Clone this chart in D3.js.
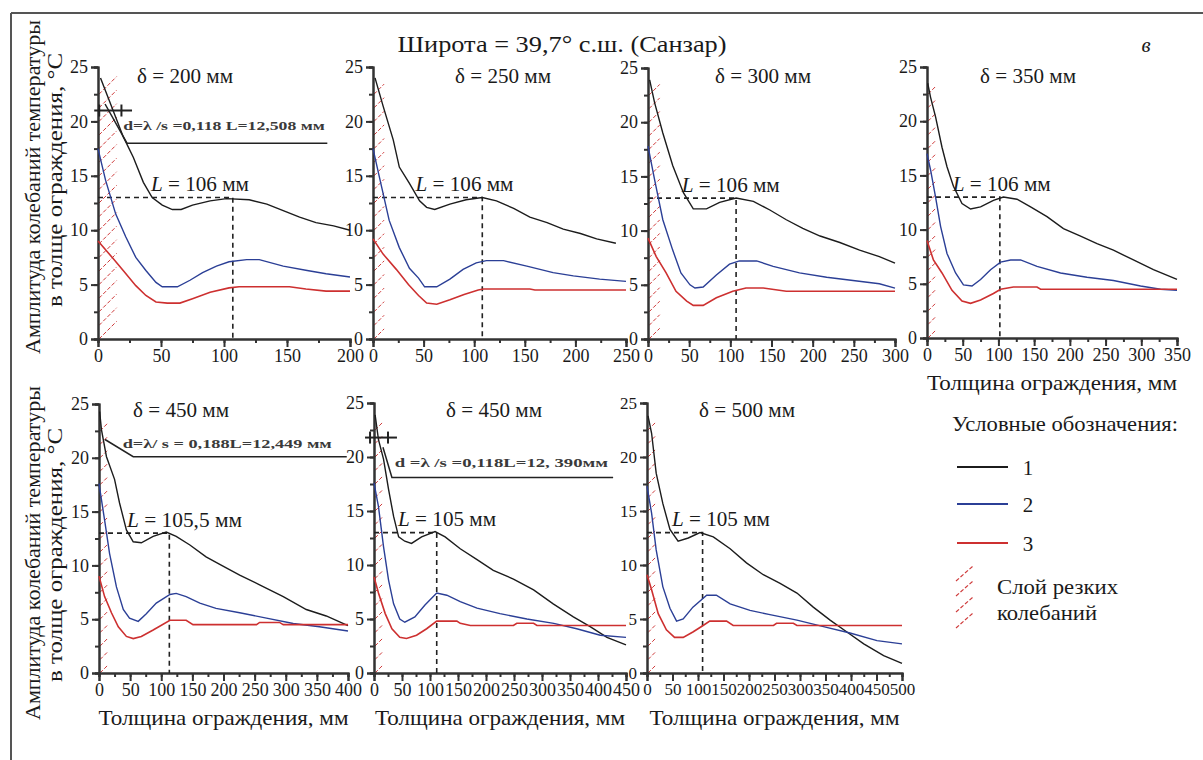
<!DOCTYPE html>
<html>
<head>
<meta charset="utf-8">
<script src="https://cdn.jsdelivr.net/npm/d3@7"></script>
<style>
  body { margin: 0; background: #fff; }
  svg { display: block; font-family: "Liberation Serif", "Times New Roman", serif; }
  svg text { font-family: "Liberation Serif", "Times New Roman", serif; }
</style>
</head>
<body>
<svg id="chart" width="1203" height="760"></svg>
<script>
// panel captions and axis ranges
const panelDelta = [200, 250, 300, 350, 450, 450, 500];
const panelXMax = [200, 250, 300, 350, 400, 450, 500];
const yTickValues = [0, 5, 10, 15, 20, 25];
const lengthLabels = ["106", "106", "106", "106", "105,5", "105", "105"];
const lengthMarkX = [107, 108, 107, 102, 113, 112, 109];
const lengthMarkY = 13;
const lengthLabelX = [42, 42, 41, 36, 45, 43, 49];
const hatchDepth = [14, 10, 13, 10, 12, 13, 14];
const hatchTop = 24;
const legendLabels = ["1", "2", "3"];

// curve 1 (black) per panel, [thickness mm, amplitude °C]
const curve1 = [
  [[2,24],[9,21.9],[20,18.6],[28,16.7],[36,14.4],[43,13.0],[51,12.3],[59,11.9],[66,11.9],[75,12.3],[89,12.7],[102,12.9],[120,12.8],[134,12.4],[147,11.8],[160,11.2],[173,10.7],[187,10.4],[200,10.0]],
  [[2,24],[10,21.4],[20,18.3],[26,15.8],[36,14.3],[46,12.7],[53,12.1],[61,11.9],[76,12.4],[92,12.8],[108,13.0],[122,12.7],[139,12.0],[155,11.2],[172,10.7],[188,10.1],[205,9.7],[221,9.2],[240,8.8]],
  [[2,23.9],[8,21.8],[18,19.0],[30,16.0],[43,13.5],[55,12.0],[71,12.0],[87,12.6],[107,13.0],[128,12.7],[148,11.9],[168,11.0],[188,10.2],[209,9.5],[233,8.9],[257,8.2],[281,7.6],[300,7.0]],
  [[1,23.5],[5,22.2],[12,20.4],[21,17.6],[28,15.8],[37,14.0],[49,12.4],[61,11.9],[75,12.1],[93,12.7],[107,13.0],[126,12.8],[145,12.1],[168,11.2],[191,10.1],[215,9.4],[238,8.7],[261,8.1],[289,7.2],[317,6.3],[350,5.4]],
  [[1,24.3],[4,22.6],[12,20.1],[25,18.0],[33,15.8],[44,13.3],[55,12.2],[68,12.1],[87,12.7],[108,13.1],[124,12.7],[146,11.9],[172,10.8],[194,10.1],[226,9.1],[258,8.2],[296,7.1],[333,5.9],[365,5.3],[400,4.4]],
  [[2,23.9],[8,21.6],[17,19.8],[26,17.0],[35,14.5],[44,12.6],[55,12.2],[67,12.0],[85,12.6],[109,13.1],[127,12.6],[154,11.5],[184,10.5],[213,9.5],[249,8.7],[285,7.7],[320,6.4],[356,5.2],[386,4.3],[416,3.3],[450,2.6]],
  [[2,23.8],[9,22.2],[18,18.5],[31,15.7],[45,13.3],[61,12.2],[81,12.5],[104,13.0],[130,12.6],[163,11.5],[195,10.2],[228,9.1],[261,8.3],[294,7.4],[326,6.1],[359,4.9],[392,3.8],[425,2.7],[464,1.6],[500,0.9]],
];

// curve 2 (blue)
const curve2 = [
  [[0,17.5],[6,14.6],[14,11.5],[22,9.4],[30,7.5],[38,6.3],[46,5.2],[51,4.8],[63,4.8],[73,5.4],[83,6.1],[94,6.7],[104,7.1],[118,7.3],[128,7.3],[147,6.7],[166,6.3],[181,6.0],[200,5.7]],
  [[0,17.5],[7,14.6],[16,10.9],[26,8.4],[36,6.5],[45,5.6],[51,4.8],[63,4.8],[76,5.5],[89,6.4],[102,7.0],[112,7.2],[129,7.2],[152,6.7],[178,6.1],[198,5.8],[224,5.5],[250,5.3]],
  [[0,17.8],[8,14.7],[18,11.0],[30,8.2],[40,6.1],[51,5.0],[57,4.7],[67,4.8],[83,5.9],[99,6.9],[111,7.2],[132,7.2],[152,6.7],[184,6.1],[217,5.7],[249,5.4],[281,5.1],[300,4.7]],
  [[0,17.0],[5,15.5],[12,13.0],[19,10.3],[28,7.8],[40,6.0],[51,4.9],[63,4.8],[75,5.4],[89,6.3],[103,7.0],[117,7.2],[131,7.2],[154,6.6],[187,6.0],[224,5.6],[261,5.3],[299,4.8],[327,4.5],[350,4.4]],
  [[0,17.6],[9,14.2],[17,11.1],[28,8.0],[39,5.9],[49,5.1],[63,4.8],[76,5.5],[92,6.5],[114,7.3],[124,7.4],[140,7.1],[162,6.5],[188,6.0],[226,5.6],[269,5.1],[312,4.6],[354,4.3],[400,3.9]],
  [[0,17.6],[8,15.4],[17,11.7],[26,8.6],[35,6.4],[46,5.0],[55,4.7],[73,5.2],[91,6.3],[112,7.4],[130,7.2],[154,6.6],[184,6.0],[225,5.5],[273,5.0],[321,4.6],[362,4.1],[404,3.5],[450,3.3]],
  [[0,17.3],[9,14.8],[18,11.4],[31,8.0],[45,6.0],[58,4.8],[71,5.0],[90,6.1],[117,7.2],[136,7.2],[163,6.4],[202,5.8],[241,5.4],[294,4.9],[346,4.3],[398,3.7],[451,3.0],[500,2.7]],
];

// curve 3 (red)
const curve3 = [
  [[0,9.0],[12,7.4],[20,6.3],[30,4.9],[38,4.0],[46,3.4],[55,3.3],[65,3.3],[75,3.7],[89,4.3],[104,4.7],[112,4.8],[152,4.8],[165,4.6],[181,4.4],[200,4.4]],
  [[0,9.2],[10,7.8],[23,6.4],[35,5.0],[45,4.0],[53,3.3],[63,3.2],[76,3.6],[90,4.1],[104,4.5],[109,4.6],[155,4.6],[160,4.5],[250,4.5]],
  [[0,9.3],[10,7.6],[22,6.1],[34,4.4],[47,3.5],[55,3.1],[67,3.1],[83,3.8],[103,4.4],[119,4.7],[140,4.7],[168,4.4],[300,4.4]],
  [[0,9.0],[9,7.2],[21,6.0],[35,4.4],[49,3.4],[61,3.2],[75,3.5],[93,4.1],[103,4.5],[121,4.7],[154,4.7],[159,4.5],[350,4.5]],
  [[0,9.0],[9,7.1],[20,5.6],[31,4.3],[44,3.4],[55,3.2],[68,3.4],[87,4.0],[114,4.9],[140,4.9],[151,4.5],[253,4.5],[258,4.7],[290,4.7],[296,4.5],[400,4.5]],
  [[0,8.9],[8,7.4],[20,5.5],[32,4.1],[46,3.3],[58,3.2],[76,3.5],[94,4.1],[112,4.8],[148,4.8],[154,4.6],[172,4.4],[249,4.4],[255,4.6],[285,4.6],[291,4.4],[450,4.4]],
  [[0,9.1],[9,7.7],[22,5.5],[38,4.0],[54,3.3],[71,3.3],[90,3.8],[110,4.4],[123,4.8],[156,4.8],[169,4.4],[248,4.4],[254,4.6],[287,4.6],[294,4.4],[500,4.4]],
];

// "d = λ/s" notes drawn in panels 1, 5 and 6
const notePanels = [0, 4, 5];
const noteTexts = [
  "d=λ /s =0,118 L=12,508 мм",
  "d=λ/ s = 0,188L=12,449 мм",
  "d =λ /s =0,118L=12, 390мм",
];
const noteTextAt = [[20, 19.2, 180], [38, 20.9, 374], [37, 19.1, 418]];
const noteLeaders = [
  [[5.6, 21.6], [23, 18.0], [182, 18.0]],
  [[9.6, 21.7], [55, 20.1], [398, 20.1]],
  [[16, 20.9], [32, 18.1], [427, 18.1]],
];
const noteCross = [[-3, 27, 21.0], null, [-16, 41, 21.8]];

// ---------------------------------------------------------------
const layout = [
  { x0: 98, x1: 350, top: 67, bottom: 339, titleX: 185, titleY: 83 },
  { x0: 373, x1: 626, top: 67, bottom: 339, titleX: 503, titleY: 83 },
  { x0: 648, x1: 895, top: 68, bottom: 339, titleX: 763, titleY: 83 },
  { x0: 927, x1: 1177, top: 67, bottom: 338, titleX: 1028, titleY: 83 },
  { x0: 99, x1: 348, top: 404, bottom: 673, titleX: 181, titleY: 417 },
  { x0: 374, x1: 626, top: 403, bottom: 673, titleX: 494, titleY: 417 },
  { x0: 647, x1: 902, top: 403, bottom: 673, titleX: 747, titleY: 417 },
];
const colors = ["#1c1c1c", "#2b3f96", "#cd3030"];
const hatchColor = "#cf3a3a";
const curves = [curve1, curve2, curve3];
const xTitlePanels = [3, 4, 5, 6];
const ink = "#1a1a1a";

const svg = d3.select("#chart");

// text stretched to the width it has in the picture
const fitText = (parent, x, y, size, width, str, anchor = "start") =>
  parent
    .append("text")
    .attr("x", x)
    .attr("y", y)
    .attr("font-size", size)
    .attr("fill", ink)
    .attr("text-anchor", anchor)
    .attr("textLength", width)
    .attr("lengthAdjust", "spacingAndGlyphs")
    .text(str);

// frame
svg.append("line").attr("x1", 11).attr("x2", 1203).attr("y1", 13).attr("y2", 13)
  .attr("stroke", "#555").attr("stroke-width", 2);
svg.append("line").attr("x1", 11).attr("x2", 11).attr("y1", 13).attr("y2", 760)
  .attr("stroke", "#555").attr("stroke-width", 2);

fitText(svg, 562, 52, 24, 329, "Широта = 39,7° с.ш. (Санзар)", "middle");
svg.append("text").attr("x", 1146).attr("y", 52).attr("text-anchor", "middle")
  .attr("font-size", 21).attr("font-style", "italic").attr("fill", ink).text("в");

// y-axis titles, one per row
[[187, 180], [553, 555]].forEach(([cy1, cy2]) => {
  fitText(svg, 0, 0, 22, 334, "Амплитуда колебаний температуры", "middle")
    .attr("transform", `translate(40,${cy1}) rotate(-90)`);
  fitText(svg, 0, 0, 22, 254, "в толще ограждения, °С", "middle")
    .attr("transform", `translate(62,${cy2}) rotate(-90)`);
});

layout.forEach((box, i) => {
  const x = d3.scaleLinear().domain([0, panelXMax[i]]).range([box.x0, box.x1]);
  const y = d3.scaleLinear().domain([0, 25]).range([box.bottom, box.top]);
  const g = svg.append("g");

  // hatch band: short diagonal strokes next to the inner surface
  const hw = x(hatchDepth[i]) - x(0);
  g.selectAll(".hatch")
    .data(d3.range(0, hatchTop - 0.5, 1.25))
    .join("line")
    .attr("x1", x(0) + 1)
    .attr("y1", (v) => y(v))
    .attr("x2", x(0) + 1 + hw)
    .attr("y2", (v) => y(v) - hw)
    .attr("stroke", hatchColor)
    .attr("stroke-width", 1)
    .attr("stroke-dasharray", "4,2");

  // axes: minor ticks, then major ticks with labels
  const fontSize = i === 6 ? 17 : 18;
  const styleAxis = (sel) => {
    sel.attr("font-family", null);
    sel.select(".domain").attr("stroke", "#333").attr("stroke-width", 2);
    sel.selectAll(".tick line").attr("stroke", "#333").attr("stroke-width", 2);
    sel.selectAll(".tick text").attr("font-size", fontSize).attr("fill", ink);
  };

  g.append("g").attr("transform", `translate(0,${box.bottom})`)
    .call(d3.axisBottom(x).tickValues(d3.range(0, panelXMax[i] + 1, 25)).tickSize(4).tickFormat(""))
    .call(styleAxis);
  g.append("g").attr("transform", `translate(0,${box.bottom})`)
    .call(d3.axisBottom(x).tickValues(d3.range(0, panelXMax[i] + 1, 50)).tickSize(8).tickPadding(2))
    .call(styleAxis);
  g.append("g").attr("transform", `translate(${box.x0},0)`)
    .call(d3.axisLeft(y).tickValues(d3.range(0, 25.1, 2.5)).tickSize(4).tickFormat(""))
    .call(styleAxis);
  g.append("g").attr("transform", `translate(${box.x0},0)`)
    .call(d3.axisLeft(y).tickValues(yTickValues).tickSize(7).tickPadding(3))
    .call(styleAxis);

  // L marker
  g.append("path")
    .attr("d", d3.line()([
      [x(0), y(lengthMarkY)],
      [x(lengthMarkX[i]), y(lengthMarkY)],
      [x(lengthMarkX[i]), y(0)],
    ]))
    .attr("fill", "none")
    .attr("stroke", "#222")
    .attr("stroke-width", 1.6)
    .attr("stroke-dasharray", "5,4");

  // curves
  const line = d3.line().x((d) => x(d[0])).y((d) => y(d[1]));
  curves.forEach((c, k) => {
    g.append("path")
      .attr("d", line(c[i]))
      .attr("fill", "none")
      .attr("stroke", colors[k])
      .attr("stroke-width", k === 2 ? 1.6 : 1.4);
  });

  fitText(g, box.titleX, box.titleY, 20, 96, `δ = ${panelDelta[i]} мм`, "middle");

  const lt = fitText(g, x(lengthLabelX[i]), y(13.6), 20, lengthLabels[i].length > 3 ? 115 : 98, "");
  lt.append("tspan").attr("font-style", "italic").text("L");
  lt.append("tspan").text(` = ${lengthLabels[i]} мм`);

  if (xTitlePanels.includes(i)) {
    fitText(g, (box.x0 + box.x1) / 2, box.bottom + 52, 22, 250, "Толщина ограждения, мм", "middle");
  }

  const n = notePanels.indexOf(i);
  if (n >= 0) {
    const [tx, ty, tx2] = noteTextAt[n];
    g.append("text").attr("x", x(tx)).attr("y", y(ty))
      .attr("font-size", 13).attr("font-weight", "bold").attr("fill", "#3a3a3a")
      .attr("textLength", x(tx2) - x(tx)).attr("lengthAdjust", "spacingAndGlyphs")
      .text(noteTexts[n]);
    g.append("path")
      .attr("d", d3.line()(noteLeaders[n].map((p) => [x(p[0]), y(p[1])])))
      .attr("fill", "none").attr("stroke", "#222").attr("stroke-width", 1.5);
    if (noteCross[n]) {
      const [a, b, v] = noteCross[n];
      g.append("line").attr("x1", x(a)).attr("x2", x(b)).attr("y1", y(v)).attr("y2", y(v))
        .attr("stroke", "#222").attr("stroke-width", 2);
      [x(a) + 5, x(a) + (x(b) - x(a)) * 0.72].forEach((cx) => {
        g.append("line").attr("x1", cx).attr("x2", cx).attr("y1", y(v) - 6).attr("y2", y(v) + 6)
          .attr("stroke", "#222").attr("stroke-width", 2);
      });
    }
  }
});

// legend
const legend = svg.append("g");
fitText(legend, 952, 431, 21, 226, "Условные обозначения:");
legendLabels.forEach((label, k) => {
  const ly = [467, 504, 543][k];
  legend.append("line").attr("x1", 957).attr("x2", 1008).attr("y1", ly).attr("y2", ly)
    .attr("stroke", colors[k]).attr("stroke-width", 1.8);
  legend.append("text").attr("x", 1028).attr("y", ly + 8).attr("text-anchor", "middle")
    .attr("font-size", 21).attr("fill", ink).text(label);
});
[566, 581, 597, 613].forEach((hy) => {
  legend.append("line").attr("x1", 956).attr("x2", 973).attr("y1", hy + 15).attr("y2", hy)
    .attr("stroke", hatchColor).attr("stroke-width", 1.2).attr("stroke-dasharray", "4,2");
});
fitText(legend, 997, 594, 21, 121, "Слой резких");
fitText(legend, 997, 620, 21, 100, "колебаний");
</script>
</body>
</html>
